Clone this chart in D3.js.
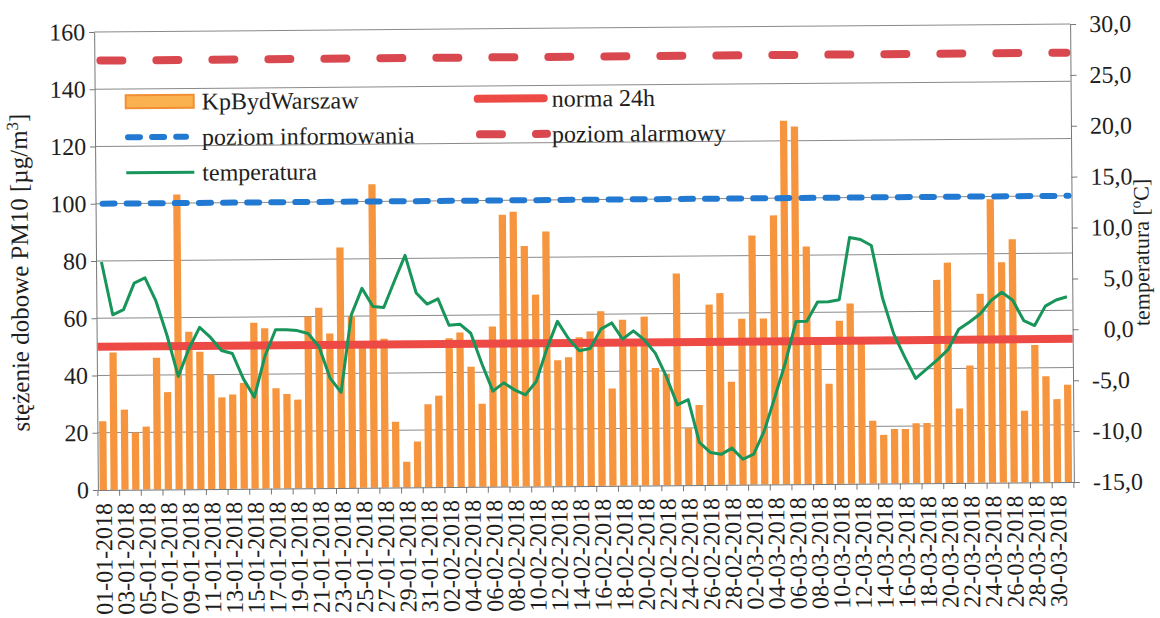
<!DOCTYPE html>
<html>
<head>
<meta charset="utf-8">
<script src="https://cdn.jsdelivr.net/npm/d3@7"></script>
<style>
  body { margin: 0; background: #ffffff; }
</style>
</head>
<body>
<script>

// daily categories, 01-01-2018 .. 31-03-2018
var dates = [
  "01-01-2018","02-01-2018","03-01-2018","04-01-2018","05-01-2018","06-01-2018","07-01-2018","08-01-2018","09-01-2018","10-01-2018",
  "11-01-2018","12-01-2018","13-01-2018","14-01-2018","15-01-2018","16-01-2018","17-01-2018","18-01-2018","19-01-2018","20-01-2018",
  "21-01-2018","22-01-2018","23-01-2018","24-01-2018","25-01-2018","26-01-2018","27-01-2018","28-01-2018","29-01-2018","30-01-2018",
  "31-01-2018","01-02-2018","02-02-2018","03-02-2018","04-02-2018","05-02-2018","06-02-2018","07-02-2018","08-02-2018","09-02-2018",
  "10-02-2018","11-02-2018","12-02-2018","13-02-2018","14-02-2018","15-02-2018","16-02-2018","17-02-2018","18-02-2018","19-02-2018",
  "20-02-2018","21-02-2018","22-02-2018","23-02-2018","24-02-2018","25-02-2018","26-02-2018","27-02-2018","28-02-2018","01-03-2018",
  "02-03-2018","03-03-2018","04-03-2018","05-03-2018","06-03-2018","07-03-2018","08-03-2018","09-03-2018","10-03-2018","11-03-2018",
  "12-03-2018","13-03-2018","14-03-2018","15-03-2018","16-03-2018","17-03-2018","18-03-2018","19-03-2018","20-03-2018","21-03-2018",
  "22-03-2018","23-03-2018","24-03-2018","25-03-2018","26-03-2018","27-03-2018","28-03-2018","29-03-2018","30-03-2018","31-03-2018"
];

// PM10 daily mean, KpBydWarszaw [ug/m3]
var pm10 = [
  24, 48, 28, 20, 22, 46, 34, 103, 55, 48,
  40, 32, 33, 37, 58, 56, 35, 33, 31, 60,
  63, 54, 84, 60, 51, 106, 52, 23, 9, 16,
  29, 32, 52, 54, 42, 29, 56, 95, 96, 84,
  67, 89, 44, 45, 52, 54, 61, 34, 58, 51,
  59, 41, 39, 74, 20, 28, 63, 67, 36, 58,
  87, 58, 94, 127, 125, 83, 49, 35, 57, 63,
  49, 22, 17, 19, 19, 21, 21, 71, 77, 26,
  41, 66, 99, 77, 85, 25, 48, 37, 29, 34
];

// daily temperature [oC]
var temperature = [
  7.4, 2.2, 2.7, 5.3, 5.8, 3.5, 0.1, -3.9, -1.2, 0.9,
  -0.1, -1.4, -1.7, -4.2, -6.0, -2.0, 0.6, 0.6, 0.5, 0.2,
  -1.1, -4.2, -5.6, 2.0, 4.6, 2.8, 2.7, 5.3, 7.8, 4.1,
  3.0, 3.5, 0.9, 1.0, 0.1, -2.9, -5.6, -4.8, -5.5, -6.0,
  -4.7, -1.5, 1.2, -0.5, -1.7, -1.5, 0.4, 1.0, -0.6, 0.2,
  -0.7, -2.0, -4.3, -7.1, -6.6, -10.8, -11.8, -12.0, -11.4, -12.5,
  -12.0, -9.7, -6.4, -3.0, 1.0, 1.0, 2.9, 2.9, 3.1, 9.2,
  9.0, 8.4, 3.2, -0.3, -2.6, -4.7, -3.8, -2.9, -1.9, 0.1,
  0.8, 1.6, 2.9, 3.7, 2.9, 0.9, 0.4, 2.3, 2.9, 3.2
];

// limit levels [ug/m3]
var normLevel = 50;
var infoLevel = 100;
var alarmLevel = 150;

// axis ticks
var pmTicks = [0, 20, 40, 60, 80, 100, 120, 140, 160];
var tempTicks = [-15, -10, -5, 0, 5, 10, 15, 20, 25, 30];

// legend texts
var seriesNames = ["KpBydWarszaw", "poziom informowania", "temperatura", "norma 24h", "poziom alarmowy"];

var serif = "'Liberation Serif', 'DejaVu Serif', 'Times New Roman', serif";


window.onload = function() {

  var chartPad = {
    h: 618,
    w: 1160,
    top: 28,
    bottom: 132,
    left: 96,
    right: 88
  };

  drawChart(chartPad);

};


function drawChart(chartPad) {

  var svg = d3.select("body")
            .append("svg")
              .attr("width", chartPad.w)
              .attr("height", chartPad.h)
              .attr("font-family", serif);

  // the scan is a little tilted, so tilt the whole drawing too
  var g = svg.append("g")
             .attr("transform", "rotate(-0.47, 584, 257)");

  var xScale = d3.scaleBand()
                 .domain(dates)
                 .range([chartPad.left, chartPad.w - chartPad.right])
                 .paddingInner(0.33)
                 .paddingOuter(0.165);

  var yScale = getYscale([0, 160], chartPad);
  var tScale = getYscale([-15, 30], chartPad);

  var x0 = chartPad.left;
  var x1 = chartPad.w - chartPad.right;
  var baseY = chartPad.h - chartPad.bottom;

  // horizontal gridlines
  g.append("g")
    .selectAll("line")
    .data(pmTicks.slice(1))
    .enter()
  .append("line")
    .attr("x1", x0)
    .attr("x2", x1)
    .attr("y1", function(d) { return yScale(d); })
    .attr("y2", function(d) { return yScale(d); })
    .attr("stroke", "#8a8a8a")
    .attr("stroke-width", 1);

  // bars
  g.append("g")
    .selectAll("rect")
    .data(pm10)
    .enter()
  .append("rect")
    .attr("x", function(d, i) { return xScale(dates[i]); })
    .attr("y", function(d) { return yScale(d); })
    .attr("width", xScale.bandwidth())
    .attr("height", function(d) { return baseY - yScale(d); })
    .attr("fill", "#f6953e");

  // limit lines
  g.append("line")
    .attr("x1", x0 + 6).attr("x2", x1 - 4)
    .attr("y1", yScale(alarmLevel)).attr("y2", yScale(alarmLevel))
    .attr("stroke", "#d9484f")
    .attr("stroke-width", 8)
    .attr("stroke-linecap", "round")
    .attr("stroke-dasharray", "22,34");

  g.append("line")
    .attr("x1", x0 + 7).attr("x2", x1 - 3)
    .attr("y1", yScale(infoLevel)).attr("y2", yScale(infoLevel))
    .attr("stroke", "#2179d2")
    .attr("stroke-width", 6)
    .attr("stroke-linecap", "round")
    .attr("stroke-dasharray", "12,12.1");

  g.append("line")
    .attr("x1", x0 + 1).attr("x2", x1)
    .attr("y1", yScale(normLevel)).attr("y2", yScale(normLevel))
    .attr("stroke", "#ee4a45")
    .attr("stroke-width", 8);

  // temperature line
  var line = d3.line()
               .x(function(d, i) { return xScale(dates[i]) + xScale.bandwidth() / 2; })
               .y(function(d) { return tScale(d); });

  g.append("path")
    .datum(temperature)
    .attr("d", line)
    .attr("fill", "none")
    .attr("stroke", "#17955a")
    .attr("stroke-width", 3)
    .attr("stroke-linejoin", "round");

  drawAxes(g, xScale, yScale, tScale, chartPad);
  drawLegend(g);

}


function drawAxes(g, xScale, yScale, tScale, chartPad) {

  var x0 = chartPad.left;
  var x1 = chartPad.w - chartPad.right;
  var baseY = chartPad.h - chartPad.bottom;

  // left axis
  var yAxis = d3.axisLeft(yScale)
                .tickValues(pmTicks)
                .tickSize(5)
                .tickPadding(4)
                .tickSizeOuter(0);

  var left = g.append("g")
              .attr("transform", "translate(" + x0 + ",0)")
              .call(yAxis);
  styleAxis(left, 24);

  // right axis
  var tAxis = d3.axisRight(tScale)
                .tickValues(tempTicks)
                .tickSize(6)
                .tickPadding(13)
                .tickSizeOuter(0)
                .tickFormat(function(d) {
                  var s = d.toFixed(1).replace(".", ",");
                  // single digit positives get a figure space in front, as in the scan
                  return (d >= 0 && d < 10) ? "\u2007" + s : s;
                });

  var right = g.append("g")
               .attr("transform", "translate(" + x1 + ",0)")
               .call(tAxis);
  styleAxis(right, 24);

  // bottom axis: labels for every second day
  var xAxis = d3.axisBottom(xScale)
                .tickValues(dates.filter(function(d, i) { return i % 2 == 0; }))
                .tickSize(0)
                .tickSizeOuter(0);

  var bottom = g.append("g")
                .attr("transform", "translate(0," + baseY + ")")
                .call(xAxis);
  styleAxis(bottom, 24);

  bottom.selectAll(".tick text")
          .attr("transform", "rotate(-90)")
          .attr("x", -13)
          .attr("y", 0)
          .attr("dy", "0.35em")
          .style("text-anchor", "end");

  // tick marks between every second pair of days
  var step = xScale.step();
  bottom.append("g")
    .selectAll("line")
    .data(dates.filter(function(d, i) { return i % 2 == 0; }))
    .enter()
  .append("line")
    .attr("x1", function(d) { return xScale(d) - step * xScale.paddingInner() / 2; })
    .attr("x2", function(d) { return xScale(d) - step * xScale.paddingInner() / 2; })
    .attr("y1", 0)
    .attr("y2", 6)
    .attr("stroke", "#777");

  bottom.append("line")
    .attr("x1", x1).attr("x2", x1)
    .attr("y1", 0).attr("y2", 6)
    .attr("stroke", "#777");

  // axis titles
  var leftTitle = g.append("text")
                   .attr("transform", "translate(28,268) rotate(-90)")
                   .attr("text-anchor", "middle")
                   .attr("font-size", 25)
                   .attr("fill", "#1e1e1e");
  leftTitle.append("tspan").text("stężenie dobowe PM10 [µg/m");
  leftTitle.append("tspan").attr("baseline-shift", "super").attr("font-size", 17).text("3");
  leftTitle.append("tspan").text("]");

  var rightTitle = g.append("text")
                    .attr("transform", "translate(1149," + (chartPad.top + baseY) / 2 + ") rotate(-90)")
                    .attr("text-anchor", "middle")
                    .attr("font-size", 22)
                    .attr("fill", "#1e1e1e");
  rightTitle.append("tspan").text("temperatura [");
  rightTitle.append("tspan").attr("baseline-shift", "super").attr("font-size", 15).text("o");
  rightTitle.append("tspan").text("C]");

}


function styleAxis(axis, fontSize) {

  axis.attr("font-size", fontSize)
      .attr("font-family", serif);
  axis.select(".domain").attr("stroke", "#777");
  axis.selectAll(".tick line").attr("stroke", "#777");
  axis.selectAll(".tick text").attr("fill", "#1e1e1e");

}


function drawLegend(g) {

  var col = [127, 477];
  var row = [98, 133.5, 169];
  var sample = 68;

  var legend = g.append("g");

  // KpBydWarszaw
  legend.append("rect")
    .attr("x", col[0]).attr("y", row[0] - 6.5)
    .attr("width", sample).attr("height", 13)
    .attr("fill", "#f9b24f")
    .attr("stroke", "#f28f35")
    .attr("stroke-width", 2);

  // poziom informowania
  legend.append("line")
    .attr("x1", col[0] + 2).attr("x2", col[0] + 60)
    .attr("y1", row[1]).attr("y2", row[1])
    .attr("stroke", "#2179d2")
    .attr("stroke-width", 6)
    .attr("stroke-linecap", "round")
    .attr("stroke-dasharray", "12,12.1");

  // temperatura
  legend.append("line")
    .attr("x1", col[0]).attr("x2", col[0] + sample)
    .attr("y1", row[2]).attr("y2", row[2])
    .attr("stroke", "#17955a")
    .attr("stroke-width", 3);

  // norma 24h
  legend.append("line")
    .attr("x1", col[1] + 2).attr("x2", col[1] + sample)
    .attr("y1", row[0]).attr("y2", row[0])
    .attr("stroke", "#ee4a45")
    .attr("stroke-width", 8)
    .attr("stroke-linecap", "round");

  // poziom alarmowy
  legend.append("line")
    .attr("x1", col[1] + 4).attr("x2", col[1] + 71)
    .attr("y1", row[1]).attr("y2", row[1])
    .attr("stroke", "#d9484f")
    .attr("stroke-width", 8)
    .attr("stroke-linecap", "round")
    .attr("stroke-dasharray", "22,34");

  var pos = [[col[0], row[0]], [col[0], row[1]], [col[0], row[2]], [col[1], row[0]], [col[1], row[1]]];

  legend.selectAll("text")
    .data(seriesNames)
    .enter()
  .append("text")
    .attr("x", function(d, i) { return pos[i][0] + 76; })
    .attr("y", function(d, i) { return pos[i][1]; })
    .attr("dy", "0.35em")
    .attr("font-size", 24)
    .attr("fill", "#1e1e1e")
    .text(function(d) { return d; });

}


function getYscale(domain, chartPad) {
  var yScale = d3.scaleLinear()
                 .domain(domain)
                 .range([chartPad.h - chartPad.bottom, chartPad.top]);

  return yScale;

};

</script>
</body>
</html>
